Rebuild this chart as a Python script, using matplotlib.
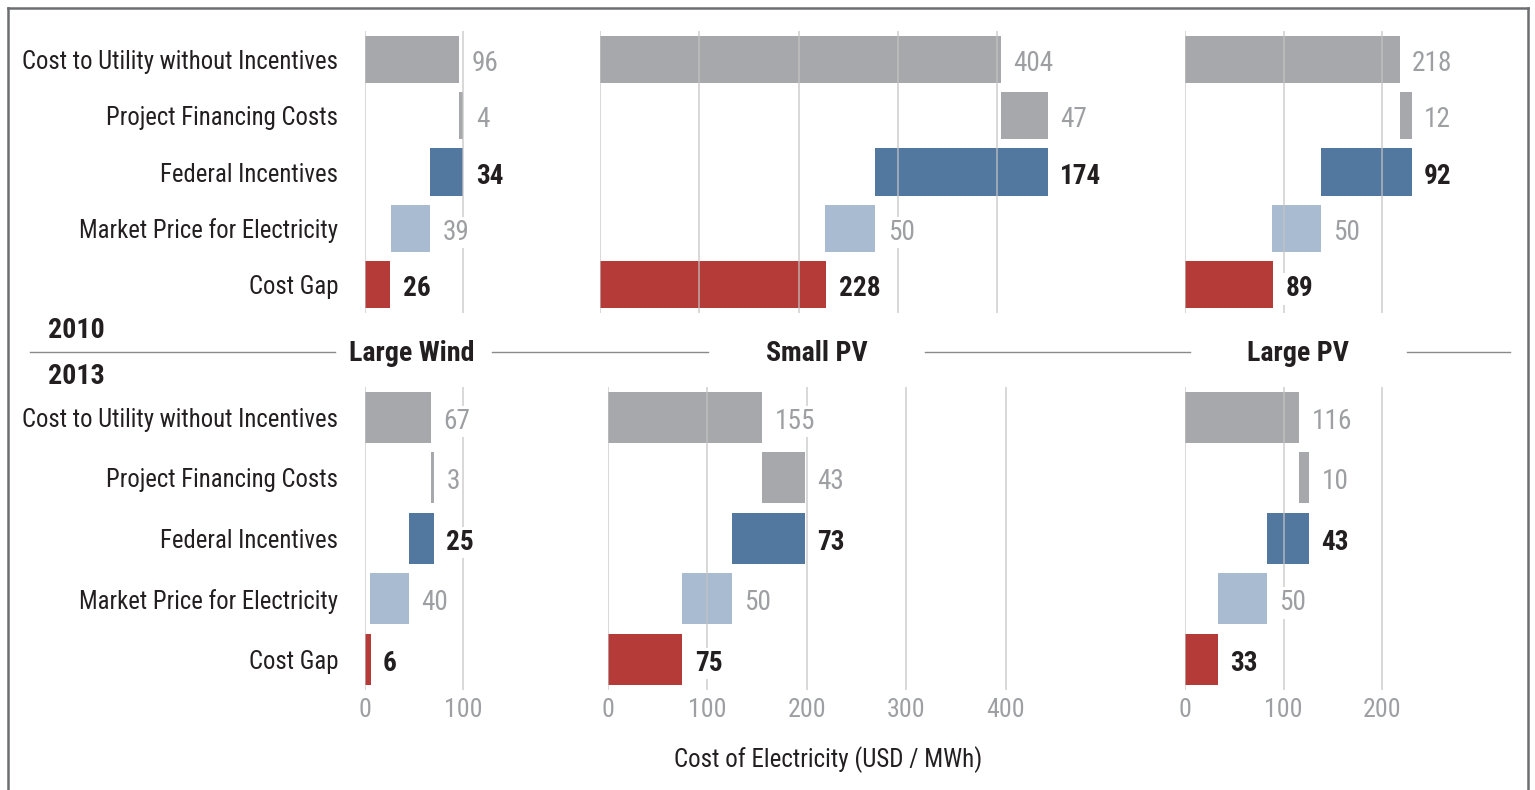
import matplotlib
matplotlib.use('Agg')
import matplotlib.pyplot as plt
from matplotlib import font_manager
from matplotlib.lines import Line2D

# ---------------- data ----------------
categories = ["Cost to Utility without Incentives", "Project Financing Costs",
              "Federal Incentives", "Market Price for Electricity", "Cost Gap"]
techs = ["Large Wind", "Small PV", "Large PV"]
years = ["2010", "2013"]

large_wind_2010 = [96, 4, 34, 39, 26]
small_pv_2010 = [404, 47, 174, 50, 228]
large_pv_2010 = [218, 12, 92, 50, 89]

large_wind_2013 = [67, 3, 25, 40, 6]
small_pv_2013 = [155, 43, 73, 50, 75]
large_pv_2013 = [116, 10, 43, 50, 33]

wind_ticks = [0, 100]
small_pv_ticks = [0, 100, 200, 300, 400]
large_pv_ticks = [0, 100, 200]
xlabel = "Cost of Electricity (USD / MWh)"

# ---------------- font choice (prefer a condensed sans) ----------------
def is_condensed(f):
    st = f.stretch
    if isinstance(st, (int, float)):
        return st <= 87
    st = str(st).lower()
    return 'condensed' in st or 'narrow' in st


cands = []
for f in font_manager.fontManager.ttflist:
    nm = f.name.lower()
    if 'mono' in nm or 'serif' in nm or 'cjk' in nm:
        continue
    if is_condensed(f) or 'narrow' in nm or 'condensed' in nm:
        cands.append(f)

prefs = ['roboto condensed', 'liberation sans narrow', 'noto sans', 'open sans', 'dejavu sans', '']
FONT, STRETCH = 'Roboto', 'normal'
chosen = None
for p in prefs:
    for f in cands:
        if f.name.lower().startswith(p):
            chosen = f
            break
    if chosen is not None:
        break
if chosen is not None:
    FONT = chosen.name
    STRETCH = chosen.stretch if is_condensed(chosen) else 'normal'
else:
    names = {f.name for f in font_manager.fontManager.ttflist}
    FONT = 'Roboto' if 'Roboto' in names else 'DejaVu Sans'

plt.rcParams['font.family'] = [FONT, 'DejaVu Sans']
plt.rcParams['font.stretch'] = STRETCH

GRAY = '#a7a8ab'
BLUE = '#53789f'
LBLUE = '#a8bbd1'
RED = '#b53b38'
bar_colors = [GRAY, GRAY, BLUE, LBLUE, RED]
TXT = '#231f20'
LTXT = '#9d9fa2'
label_colors = [LTXT, LTXT, TXT, LTXT, TXT]
label_weights = ['normal', 'normal', 'bold', 'normal', 'bold']

W, H = 1535, 790
fig = plt.figure(figsize=(W / 100, H / 100), dpi=100)

# scale font sizes so the longest label has the reference width (~315 px)
renderer = fig.canvas.get_renderer()
_t = fig.text(0, 0, categories[0], fontsize=19)
_w = _t.get_window_extent(renderer).width
_t.remove()
K = min(1.0, 315.0 / _w)
FS_CAT = 19 * K
FS_VAL = 21 * K
FS_TICK = 20 * K
FS_TITLE = 21.5 * K
FS_XL = 19.2 * K


def waterfall(v):
    c, f, inc, mkt, gap = v
    lefts = [0, c, c + f - inc, c + f - inc - mkt, 0]
    widths = [c, f, inc, mkt, gap]
    return lefts, widths


rows = [
    dict(ytop=31, ybot=313, data=[large_wind_2010, small_pv_2010, large_pv_2010],
         zeros=[364.7, 600.0, 1185.0], ppu=[0.987, 0.993, 0.985], ticklabels=False),
    dict(ytop=387, ybot=689.6, data=[large_wind_2013, small_pv_2013, large_pv_2013],
         zeros=[364.7, 607.5, 1185.0], ppu=[0.987, 0.996, 0.985], ticklabels=True),
]
xmaxs = [130, 480, 260]
ticks_all = [wind_ticks, small_pv_ticks, large_pv_ticks]

for row in rows:
    for j in range(3):
        x0 = row['zeros'][j]
        wpx = xmaxs[j] * row['ppu'][j]
        ax = fig.add_axes([x0 / W, 1 - row['ybot'] / H, wpx / W, (row['ybot'] - row['ytop']) / H])
        ax.set_xlim(0, xmaxs[j])
        ax.set_ylim(4.5, -0.5)
        for s in ax.spines.values():
            s.set_visible(False)
        lefts, widths = waterfall(row['data'][j])
        ax.barh(range(5), widths, left=lefts, height=0.84, color=bar_colors, zorder=2)
        for t in ticks_all[j]:
            ax.axvline(t, color='#c4c4c4', lw=1.3, alpha=0.7, zorder=3)
        for i in range(5):
            xe = lefts[i] + widths[i]
            ax.annotate(str(row['data'][j][i]), xy=(xe, i), xytext=(9, -3),
                        textcoords='offset points', ha='left', va='center',
                        fontsize=FS_VAL, color=label_colors[i], fontweight=label_weights[i],
                        zorder=5,
                        bbox=dict(boxstyle='square,pad=0.08', fc='white', ec='none'))
        ax.set_xticks(ticks_all[j])
        ax.tick_params(axis='x', length=0, labelsize=FS_TICK, labelcolor=LTXT, pad=6,
                       labelbottom=row['ticklabels'])
        if j == 0:
            ax.set_yticks(range(5))
            ax.set_yticklabels(categories, fontsize=FS_CAT, color=TXT)
            ax.tick_params(axis='y', length=0, pad=19)
        else:
            ax.set_yticks([])

# separator line and titles
ysep = 1 - 352 / H
for a, b in [(30, 335), (492, 708), (925, 1190), (1407, 1510)]:
    fig.add_artist(Line2D([a / W, b / W], [ysep, ysep], color='#8a8a8a', lw=1.0))
for name, xc in zip(techs, [412, 817, 1298]):
    fig.text(xc / W, 1 - 354 / H, name, ha='center', va='center', fontsize=FS_TITLE,
             fontweight='bold', color=TXT)
fig.text(48 / W, 1 - 330 / H, years[0], ha='left', va='center', fontsize=FS_TITLE,
         fontweight='bold', color=TXT)
fig.text(48 / W, 1 - 376 / H, years[1], ha='left', va='center', fontsize=FS_TITLE,
         fontweight='bold', color=TXT)

fig.text(828 / W, 1 - 760 / H, xlabel, ha='center', va='center', fontsize=FS_XL, color=TXT)

# outer frame (top, left, right)
FR = '#6d6e71'
ytop_f = 1 - 7.5 / H
fig.add_artist(Line2D([8 / W, 1528 / W], [ytop_f, ytop_f], color=FR, lw=1.8))
fig.add_artist(Line2D([8 / W, 8 / W], [0, ytop_f], color=FR, lw=1.8))
fig.add_artist(Line2D([1528 / W, 1528 / W], [0, ytop_f], color=FR, lw=1.8))

fig.savefig('out.png', dpi=100)
